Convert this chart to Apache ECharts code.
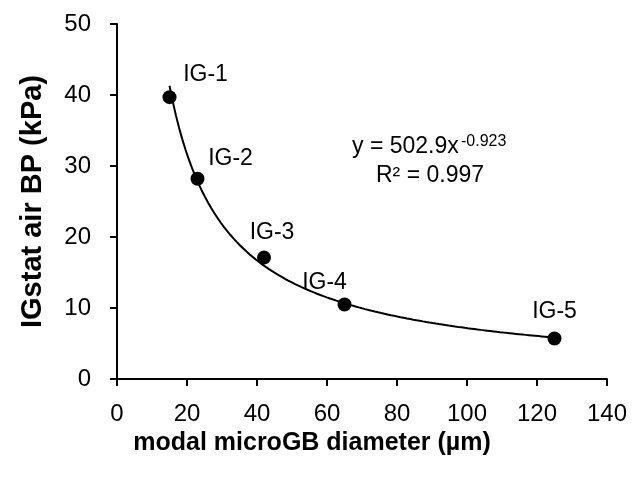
<!DOCTYPE html>
<html>
<head>
<meta charset="utf-8">
<title>IGstat air BP vs modal microGB diameter</title>
<script src="https://cdn.jsdelivr.net/npm/echarts@6/dist/echarts.min.js"></script>
<style>
  html, body { margin: 0; padding: 0; background: #fff; }
  #chart { width: 634px; height: 480px; }
</style>
</head>
<body>
<div id="chart"></div>
<script>
// measured points
const labels = ['IG-1', 'IG-2', 'IG-3', 'IG-4', 'IG-5'];
const diameters = [15, 23, 42, 65, 125];
const pressures = [39.7, 28.2, 17.1, 10.5, 5.7];

// power trendline shown on the chart: y = a * x^b
const trendA = 502.9;
const trendB = -0.923;
const trendR2 = 0.997;

const xTicks = { min: 0, max: 140, interval: 20 };
const yTicks = { min: 0, max: 50, interval: 10 };

// label placement around each point (px)
const labelOffsets = [[36, -22], [33, -20], [8, -25], [-20, -22], [0, -27]];

const font = 'Liberation Sans, Arial, Helvetica, sans-serif';

function trendPoints() {
  const pts = [];
  const x0 = diameters[0], x1 = diameters[diameters.length - 1];
  const n = 120;
  for (let i = 0; i <= n; i++) {
    const x = x0 + (x1 - x0) * i / n;
    pts.push([x, trendA * Math.pow(x, trendB)]);
  }
  return pts;
}

const chart = echarts.init(document.getElementById('chart'));

const axisCommon = {
  axisLine: { show: true, lineStyle: { color: '#000', width: 2 } },
  axisTick: { show: true, inside: false, length: 7, lineStyle: { color: '#000', width: 2 } },
  splitLine: { show: false },
  nameTextStyle: { color: '#000', fontFamily: font, fontWeight: 'bold' }
};

chart.setOption({
  animation: false,
  backgroundColor: '#fff',
  grid: { left: 117, right: 27, top: 24, bottom: 101 },
  xAxis: Object.assign({}, axisCommon, {
    type: 'value',
    min: xTicks.min, max: xTicks.max, interval: xTicks.interval,
    name: 'modal microGB diameter (\u00b5m)',
    nameLocation: 'middle',
    nameGap: 43,
    // title sits centred on the figure, not on the axis
    nameTextStyle: Object.assign({}, axisCommon.nameTextStyle, { fontSize: 25, padding: [0, 100, 0, 0] }),
    axisLabel: { color: '#000', fontFamily: font, fontSize: 24, margin: 23 }
  }),
  yAxis: Object.assign({}, axisCommon, {
    type: 'value',
    min: yTicks.min, max: yTicks.max, interval: yTicks.interval,
    name: 'IGstat air BP (kPa)',
    nameLocation: 'middle',
    nameGap: 70,
    nameTextStyle: Object.assign({}, axisCommon.nameTextStyle, { fontSize: 29 }),
    axisLabel: { color: '#000', fontFamily: font, fontSize: 24, margin: 26 }
  }),
  series: [
    {
      type: 'line',
      data: trendPoints(),
      showSymbol: false,
      smooth: false,
      lineStyle: { color: '#000', width: 2 },
      silent: true,
      z: 2
    },
    {
      type: 'scatter',
      symbol: 'circle',
      symbolSize: 14,
      itemStyle: { color: '#000', opacity: 1 },
      z: 3,
      data: diameters.map((x, i) => ({
        value: [x, pressures[i]],
        label: {
          show: true,
          position: 'inside',
          offset: labelOffsets[i],
          formatter: labels[i],
          color: '#000',
          fontFamily: font,
          fontSize: 23
        }
      }))
    }
  ],
  graphic: [
    {
      type: 'text',
      left: 352, top: 135,
      style: { text: 'y = 502.9x', fill: '#000', font: '23px ' + font }
    },
    {
      type: 'text',
      left: 461, top: 134,
      style: { text: '-' + Math.abs(trendB).toFixed(3), fill: '#000', font: '16px ' + font }
    },
    {
      type: 'text',
      left: 376, top: 164,
      style: { text: 'R\u00b2 = ' + trendR2.toFixed(3), fill: '#000', font: '23px ' + font }
    }
  ]
});
</script>
</body>
</html>
